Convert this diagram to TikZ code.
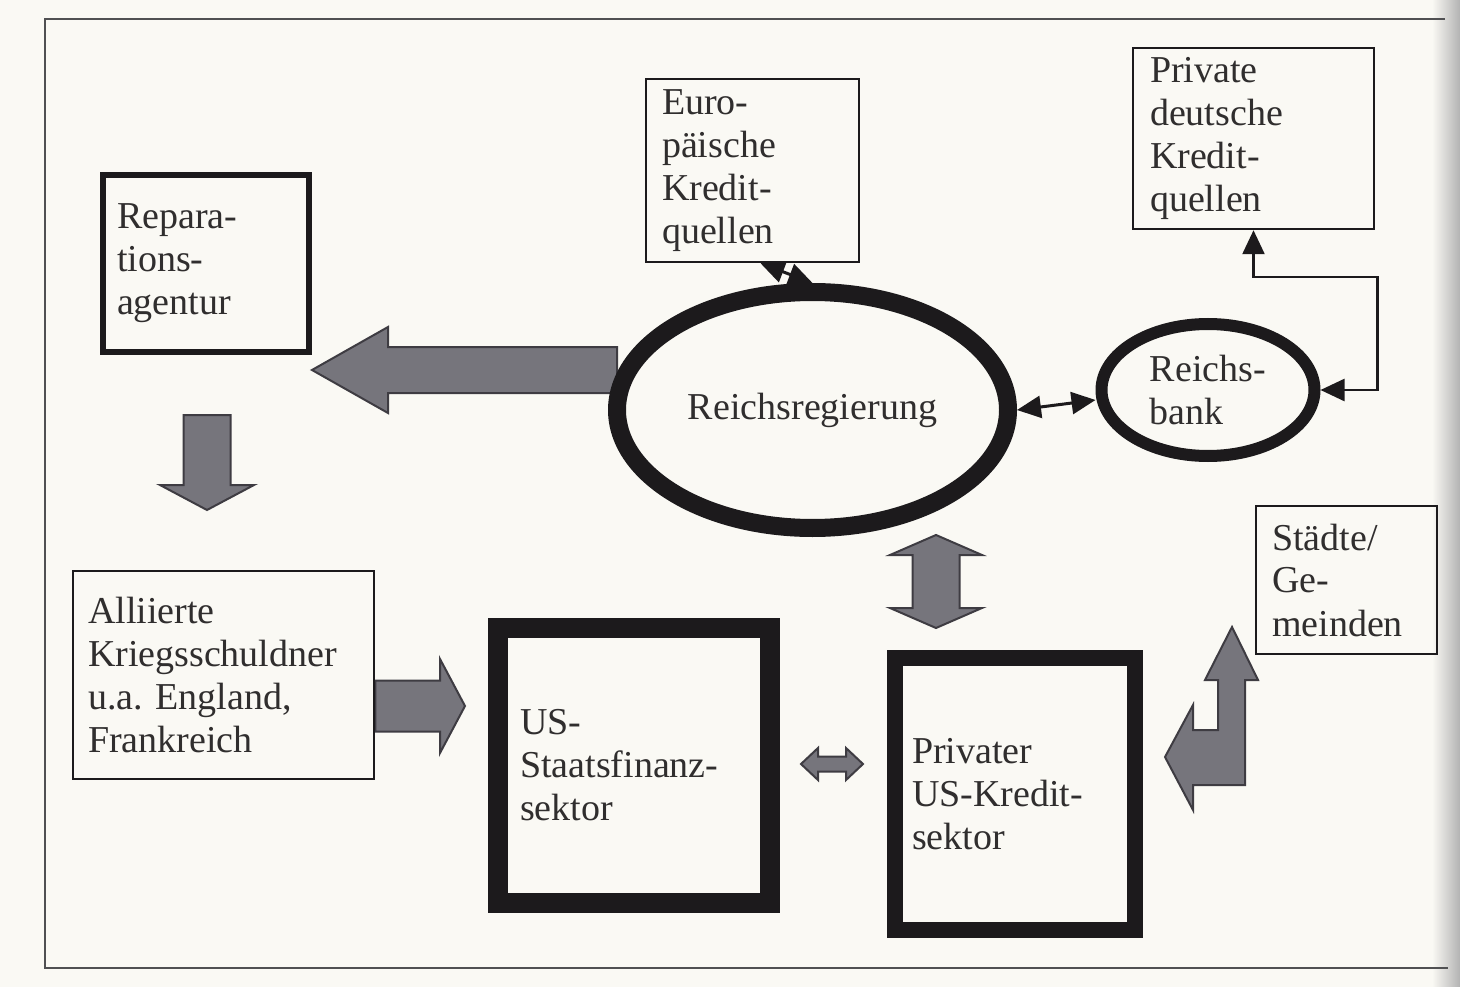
\documentclass[tikz,border=0pt]{standalone}
\usepackage{fontspec}
\setmainfont{Liberation Serif}
\usetikzlibrary{calc,arrows.meta,shapes.geometric}
\frenchspacing
\definecolor{bg}{RGB}{250,249,244}
\definecolor{ink}{RGB}{28,26,28}
\definecolor{txt}{RGB}{48,46,46}
\definecolor{fatfill}{RGB}{118,117,124}
\definecolor{fatline}{RGB}{62,60,66}
\definecolor{framec}{RGB}{80,80,82}
\pgfdeclarelayer{bglayer}
\pgfsetlayers{bglayer,main}
\tikzset{
  lbl/.style={font=\fontsize{38}{43}\selectfont, text=txt, align=left, inner ysep=0pt},
  box/.style={lbl, rectangle, draw=ink},
  oval/.style={lbl, ellipse, draw=ink, fill=bg, inner sep=0pt},
  fatarrow/.style={fill=fatfill, draw=fatline, line width=2pt, line join=miter},
  linkarrow/.style={draw=ink, line width=3pt, line join=miter, {Triangle[length=24pt,width=22pt]}-{Triangle[length=24pt,width=22pt]}},
}
% single block arrow: start, end, shaft half width, head half width, head length
\newcommand\fatarrowA[5]{%
  \path ($(#2)!#5!(#1)$) coordinate (bh);
  \filldraw[fatarrow] ($(#1)!#3!90:(#2)$) -- ($(bh)!#3!90:(#2)$) -- ($(bh)!#4!90:(#2)$) -- (#2)
    -- ($(bh)!#4!-90:(#2)$) -- ($(bh)!#3!-90:(#2)$) -- ($(#1)!#3!-90:(#2)$) -- cycle;}
% double block arrow
\newcommand\fatarrowB[5]{%
  \path ($(#1)!#5!(#2)$) coordinate (ha) ($(#2)!#5!(#1)$) coordinate (hb);
  \filldraw[fatarrow] (#1) -- ($(ha)!#4!90:(#2)$) -- ($(ha)!#3!90:(#2)$) -- ($(hb)!#3!90:(#2)$)
    -- ($(hb)!#4!90:(#2)$) -- (#2) -- ($(hb)!#4!-90:(#2)$) -- ($(hb)!#3!-90:(#2)$)
    -- ($(ha)!#3!-90:(#2)$) -- ($(ha)!#4!-90:(#2)$) -- cycle;}
\begin{document}
\begin{tikzpicture}[x=1pt,y=-1pt]
\useasboundingbox (0,0) rectangle (1460,987);
\begin{pgfonlayer}{bglayer}
  \fill[bg] (0,0) rectangle (1460,987);
  \shade[left color=bg, right color=black!30] (1432,0) rectangle (1460,987);
  \draw[framec, line width=2.5pt] (1445,19) -- (45,19) -- (45,968) -- (1448,968);
\end{pgfonlayer}

% nodes
\node[box, line width=6pt, text width=178pt, inner xsep=14pt, minimum height=177pt] (rep) at (206,263.5) {Repara-\\tions-\\agentur};
\node[box, line width=2.5pt, text width=181pt, inner xsep=16pt, minimum height=183pt] (eu) at (752.5,170.5) {Euro-\\päische\\Kredit-\\quellen};
\node[box, line width=2.5pt, text width=207pt, inner xsep=17pt, minimum height=181pt] (pdk) at (1253.5,138.5) {Private\\deutsche\\Kredit-\\quellen};
\node[box, line width=2.5pt, text width=149pt, inner xsep=16pt, minimum height=148pt] (st) at (1346.5,580) {Städte/\\Ge-\\meinden};
\node[box, line width=2.5pt, text width=271pt, inner xsep=15pt, minimum height=208pt] (al) at (223.5,675) {Alliierte\\Kriegsschuldner\\u.a. England,\\Frankreich};
\node[box, line width=20pt, text width=228pt, inner xsep=22pt, minimum height=275pt] (us) at (634,765.5) {US-\\Staatsfinanz-\\sektor};
\node[box, line width=16pt, text width=206pt, inner xsep=17pt, minimum height=272pt] (pv) at (1015,794) {Privater\\US-Kredit-\\sektor};
\node[oval, line width=18pt, minimum width=391pt, minimum height=236pt] (rr) at (812.5,410) {Reichsregierung};
\node[oval, line width=12pt, minimum width=213pt, minimum height=132pt] (rb) at (1208,390) {Reichs-\\bank};

% free ends of block arrows
\coordinate (lA) at (617,370);
\coordinate (lB) at (rep.east |- lA);
\coordinate (dA) at (207,415);
\coordinate (dB) at (207,510);
\coordinate (rA) at (al.east |- 0,706);
\coordinate (rB) at (465,706);
\coordinate (vA) at (936,535);
\coordinate (vB) at (936,628);
\coordinate (hA) at (801,764);
\coordinate (hB) at (863,764);

\begin{pgfonlayer}{bglayer}
  \fatarrowA{lA}{lB}{23pt}{43pt}{76pt}
  \fatarrowA{dA}{dB}{23.5pt}{47pt}{25pt}
  \fatarrowA{rA}{rB}{25.5pt}{47pt}{25pt}
  \fatarrowB{vA}{vB}{23.5pt}{46pt}{20pt}
  \fatarrowB{hA}{hB}{7.5pt}{16pt}{17pt}
  \filldraw[fatarrow] (1232,627) -- (1258,680) -- (1245,680) -- (1245,785) -- (1193,785)
    -- (1193,810) -- (1165,757) -- (1193,705) -- (1193,730) -- (1218,730) -- (1218,680)
    -- (1205,680) -- cycle;
\end{pgfonlayer}

% thin connectors
\draw[linkarrow] (rr.east) -- ([yshift=-10pt]rb.west);
\draw[linkarrow, line width=2.5pt] (rb.east) -- ++(57,0) |- ($(pdk.south)+(0,47)$) -- (pdk.south);
\draw[linkarrow] ([xshift=8pt]eu.south) -- (rr.north);
\end{tikzpicture}
\end{document}
